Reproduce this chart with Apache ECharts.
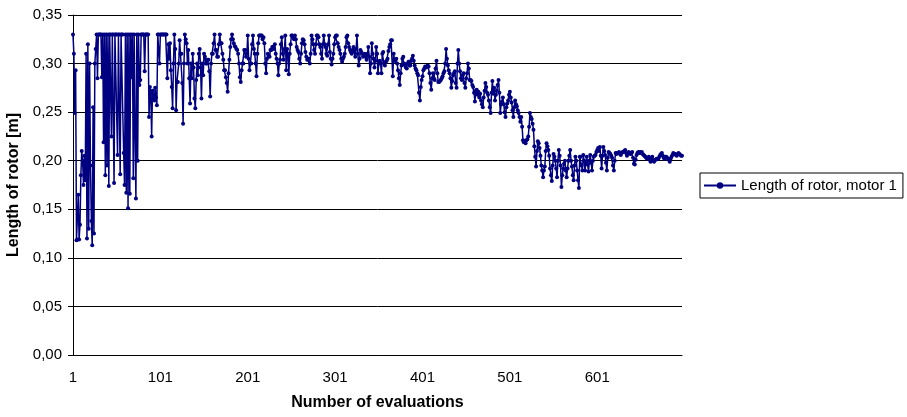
<!DOCTYPE html>
<html><head><meta charset="utf-8">
<script src="https://cdn.jsdelivr.net/npm/echarts@6/dist/echarts.min.js"></script>
<style>html,body{margin:0;padding:0;background:#fff}#c{width:907px;height:417px}</style>
</head><body><div id="c"></div>
<script>
const seriesName = 'Length of rotor, motor 1';
const xTickLabels = ['1','101','201','301','401','501','601'];
const yTickLabels = ['0,00','0,05','0,10','0,15','0,20','0,25','0,30','0,35'];

const vals001_100 = [.330,.310,.249,.293,.118,.119,.165,.119,.134,.185,.210,.200,.175,.205,.180,.310,.120,.320,.130,.300,.195,.138,.113,.255,.125,.300,.315,.330,.285,.330,
.330,.330,.330,.286,.330,.219,.330,.185,.330,.195,.330,.174,.330,.330,.225,.330,.330,.177,.330,.330,.330,.206,.330,.330,.186,.330,.330,.330,
.208,.175,.330,.167,.330,.151,.330,.166,.330,.286,.330,.182,.330,.225,.161,.330,.200,.330,.278,.283,.330,.330,.330,.330,.292,.330,.330,.330,.330,.245,.276,.270,.225,.272,.268,.262,.275,.265,.257,.330,.330,.300];
const vals101_200 = [.330,.330,.330,.330,.330,.330,.330,.330,.285,.320,.305,
.321,.293,.276,.254,.300,.330,.315,.252,.281,.281,.300,.324,.310,.310,.280,.238,.300,.330,.325,
.321,.300,.314,.285,.259,.300,.285,.310,.296,.264,.254,.283,.300,.288,.310,.315,.296,.264,.300,.288,
.310,.307,.300,.300,.304,.304,.292,.266,.300,.310,.310,.321,.330,.314,.314,.307,.307,.320,.330,.321,
.321,.310,.304,.293,.293,.286,.280,.271,.290,.304,.317,.325,.330,.325,.321,.318,.317,.315,.314,.310,.300,.286,.281,.293,.300,.300,.314,.314,.307,.310];
const vals201_300 = [.329,.305,.293,.300,.300,.320,.329,.315,.310,.300,.287,.310,.321,.329,.329,.329,.329,.325,.327,.321,.300,.290,.305,.310,.308,.307,.314,.314,.317,.317,
.315,.320,.310,.305,.300,.288,.300,.304,.320,.327,.310,.304,.315,.329,.293,.315,.310,.289,.310,.320,.329,.329,.327,.325,.329,.325,.317,.314,.312,.305,.300,.310,.321,.325,.324,.320,.312,.307,.304,.305,.305,.300,.310,.329,.325,.320,.314,.310,.320,.329,
.329,.327,.320,.317,.310,.305,.320,.329,.320,.317,.310,.308,.320,.329,.312,.305,.299,.305,.310,.320];
const vals301_400 = [.327,.329,.329,.321,.317,.314,.310,.305,.302,.305,.307,.310,.317,.327,.329,.321,.317,.314,.312,.310,.314,.317,.312,.307,.315,.329,.310,.298,.305,.314,.312,.310,.307,.309,.310,.307,.304,.310,.317,.307,.290,.300,.321,.310,.305,.296,
.303,.317,.310,.290,.300,.303,.300,.290,.310,.312,.300,.298,.302,.303,.305,.313,.317,.320,.324,.324,.287,.310,.303,.303,.305,.300,.293,.285,.278,.290,.298,.305,.307,.300,.298,.296,.295,.300,.302,.298,.298,.303,.305,.308,.303,.298,.295,.293,.290,.288,.270,.262,.276,.283];
const vals401_500 = [.287,.293,.295,.297,.296,.297,.298,.297,.290,.280,.273,.285,.290,.285,.283,.295,.303,.290,.281,.281,.282,.283,.285,.287,.290,.292,.300,.315,.305,.298,.293,.290,.285,.275,.282,.288,.290,.292,.280,.275,.300,.314,.300,.292,.285,.283,.288,.290,.280,.275,.285,.290,.300,.295,.283,.283,
.282,.278,.276,.270,.261,.272,.273,.268,.271,.265,.269,.262,.258,.255,.265,.272,.280,.276,.270,.268,.262,.255,.249,.270,.282,.269,.275,.262,.268,.272,.278,.283,.270,.249,.258,.261,.265,.258,.250,.245,.255,.259,.262,.268];
const vals501_600 = [.271,.265,.260,.252,.245,.255,.262,.258,.256,.252,.249,.245,.240,.245,.235,.221,.219,.220,.218,.221,.222,.225,.235,.249,.245,.243,.238,.232,.215,.204,.194,.210,.220,.218,.213,.205,.195,.190,.183,.190,.194,.210,.218,.215,.211,.205,.192,.185,.179,.195,.207,.204,.200,.192,.183,.200,.211,.205,.195,.173,.185,.192,.197,.200,.190,.183,.192,.200,.205,.211,.200,.194,.185,.180,.195,.204,.200,.190,.180,.172,.204,
.204,.195,.190,.206,.200,.190,.198,.204,.196,.189,.200,.206,.198,.190,.200,.204,.205,.206,.209];
const vals601_698 = [.211,.213,.210,.214,.205,.192,.205,.214,.210,.206,.198,.190,.203,.209,.208,.207,.205,.203,.195,.190,.200,.208,.207,.208,.208,.209,.207,.206,.208,.209,.209,.210,.211,.208,.205,.207,.209,.208,.207,.208,.209,.203,.197,.196,.201,.206,.208,.209,.208,.209,
.208,.209,.207,.206,.205,.204,.203,.202,.203,.204,.201,.199,.202,.204,.200,.199,.201,.201,.202,.202,.202,.204,.206,.207,.208,.205,.203,.202,.204,.204,.203,.202,.201,.199,.202,.204,.206,.208,.207,.207,.206,.205,.207,.208,.207,.206,.205,.205];

const values = [].concat(vals001_100, vals101_200, vals201_300, vals301_400, vals401_500, vals501_600, vals601_698);
const categories = values.map((_, i) => String(i + 1));

const FONT = 'Arial, "Liberation Sans", sans-serif';
const NAVY = '#000080';
const chart = echarts.init(document.getElementById('c'), null, {renderer: 'canvas'});
chart.setOption({
  animation: false,
  backgroundColor: '#fff',
  textStyle: {fontFamily: FONT, color: '#000'},
  grid: {left: 73, right: 225, top: 15, bottom: 62, containLabel: false, outerBoundsMode: 'none'},
  legend: {
    left: 700, top: 173, orient: 'vertical',
    borderColor: '#000', borderWidth: 1, borderRadius: 0,
    padding: [5, 6, 5, 3], itemWidth: 32, itemHeight: 8, itemGap: 0,
    textStyle: {fontSize: 15, color: '#000', fontFamily: FONT},
    data: [seriesName]
  },
  xAxis: {
    type: 'category', data: categories, boundaryGap: false,
    axisLine: {lineStyle: {color: '#000', width: 1}},
    axisTick: {show: false},
    splitLine: {show: false},
    axisLabel: {
      interval: (idx, v) => xTickLabels.includes(v),
      color: '#000', fontSize: 15, margin: 15, fontFamily: FONT
    },
    name: 'Number of evaluations', nameLocation: 'middle', nameGap: 40,
    nameTextStyle: {fontWeight: 'bold', fontSize: 16, color: '#000', fontFamily: FONT}
  },
  yAxis: {
    type: 'value', min: 0, max: 0.35, interval: 0.05,
    axisLine: {show: true, lineStyle: {color: '#000', width: 1}},
    axisTick: {show: true, length: 5, lineStyle: {color: '#000'}},
    splitLine: {show: true, lineStyle: {color: '#000', width: 1}},
    axisLabel: {
      formatter: (v) => yTickLabels[Math.round(v / 0.05)],
      color: '#000', fontSize: 15, margin: 11, fontFamily: FONT
    },
    name: 'Length of rotor [m]', nameLocation: 'middle', nameGap: 51,
    nameTextStyle: {fontWeight: 'bold', fontSize: 16, color: '#000', fontFamily: FONT}
  },
  series: [{
    name: seriesName, type: 'line', data: values,
    symbol: 'circle', symbolSize: 4, showSymbol: true, showAllSymbol: true,
    lineStyle: {color: NAVY, width: 1.5},
    itemStyle: {color: NAVY},
    emphasis: {disabled: true}
  }]
});
</script></body></html>
